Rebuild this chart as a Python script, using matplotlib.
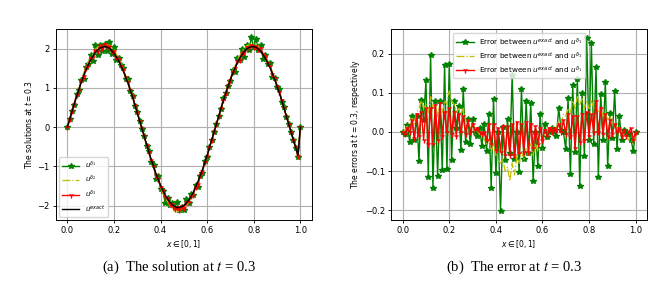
import numpy as np
import matplotlib
matplotlib.use("Agg")
import matplotlib.pyplot as plt

# grid points x = 0, 0.01, ..., 1.0
x = np.linspace(0, 1, 101)

# exact solution at t = 0.3
u_exact = [0.00, 0.20, 0.40, 0.60, 0.79, 0.97, 1.15, 1.31, 1.46, 1.59,
           1.71, 1.81, 1.90, 1.97, 2.01, 2.04, 2.05, 2.04, 2.01, 1.95,
           1.88, 1.79, 1.69, 1.57, 1.43, 1.28, 1.12, 0.94, 0.76, 0.56,
           0.36, 0.16, -0.04, -0.24, -0.44, -0.64, -0.83, -1.01, -1.18, -1.34,
           -1.48, -1.62, -1.73, -1.83, -1.91, -1.98, -2.02, -2.05, -2.05, -2.03,
           -2.00, -1.94, -1.87, -1.78, -1.67, -1.54, -1.40, -1.24, -1.08, -0.90,
           -0.72, -0.52, -0.32, -0.12, 0.08, 0.28, 0.48, 0.68, 0.86, 1.04,
           1.21, 1.37, 1.51, 1.64, 1.76, 1.85, 1.93, 1.99, 2.03, 2.05,
           2.05, 2.03, 1.99, 1.93, 1.85, 1.75, 1.64, 1.51, 1.37, 1.21,
           1.04, 0.87, 0.68, 0.48, 0.28, 0.08, -0.12, -0.32, -0.52, -0.72,
           0.00]

# errors between u_exact and the noisy solutions
err1 = [0.000, -0.006, 0.017, -0.025, 0.040, -0.020, 0.040, -0.075, 0.082, 0.030,
        0.132, -0.115, 0.196, -0.142, 0.080, -0.112, 0.078, -0.098, 0.170, -0.095,
        0.173, -0.071, 0.078, 0.010, 0.066, -0.046, 0.109, -0.025, 0.033, -0.030,
        0.032, 0.000, -0.010, 0.011, -0.036, 0.020, -0.048, 0.045, -0.143, 0.084,
        -0.105, 0.000, -0.202, 0.012, -0.072, 0.033, -0.055, 0.145, -0.070, 0.000,
        -0.103, 0.110, -0.068, 0.080, -0.053, 0.073, -0.126, 0.000, -0.086, 0.045,
        -0.040, 0.020, -0.012, 0.000, 0.010, 0.000, -0.010, 0.061, 0.005, 0.000,
        -0.044, 0.086, -0.107, 0.120, -0.050, 0.135, -0.138, 0.100, -0.062, 0.240,
        -0.020, 0.227, -0.030, 0.166, -0.114, 0.098, -0.020, 0.128, -0.087, 0.049,
        -0.015, 0.104, -0.044, 0.041, -0.020, 0.005, 0.000, -0.005, -0.020, -0.048,
        0.000]

err2 = [0.000, 0.005, 0.015, 0.030, 0.035, 0.020, 0.050, 0.060, 0.080, 0.060,
        0.070, 0.050, 0.090, 0.060, 0.070, 0.040, 0.070, 0.050, 0.080, 0.070,
        0.105, 0.080, 0.070, 0.050, 0.060, 0.045, 0.060, 0.030, 0.030, 0.010,
        0.020, 0.000, 0.005, -0.005, 0.000, -0.020, -0.030, -0.020, -0.050, -0.030,
        -0.060, -0.070, -0.080, -0.070, -0.100, -0.090, -0.125, -0.080, -0.110, -0.060,
        -0.080, -0.050, -0.070, -0.040, -0.060, -0.030, -0.060, -0.030, -0.050, -0.010,
        -0.020, 0.000, -0.005, 0.010, 0.010, 0.015, 0.010, 0.030, 0.020, 0.045,
        0.040, 0.060, 0.050, 0.080, 0.060, 0.090, 0.070, 0.085, 0.060, 0.080,
        0.060, 0.080, 0.060, 0.070, 0.050, 0.060, 0.040, 0.050, 0.030, 0.040,
        0.020, 0.020, 0.010, 0.010, 0.000, -0.010, -0.010, -0.020, -0.020, -0.030,
        0.000]

err3 = [0.000, -0.005, 0.010, 0.000, 0.030, -0.015, 0.045, -0.010, 0.050, -0.020,
        0.060, -0.030, 0.060, -0.030, 0.070, -0.020, 0.075, -0.010, 0.050, 0.000,
        0.060, -0.005, 0.050, -0.010, 0.045, 0.000, 0.040, -0.005, 0.030, 0.000,
        0.020, 0.005, 0.010, 0.000, -0.005, 0.000, -0.020, 0.020, -0.030, 0.020,
        -0.045, 0.010, -0.050, 0.015, -0.060, 0.015, -0.060, 0.020, -0.060, 0.025,
        -0.055, 0.020, -0.050, 0.025, -0.050, 0.020, -0.040, 0.015, -0.030, 0.010,
        -0.020, 0.005, -0.010, 0.010, 0.000, 0.010, 0.005, 0.020, 0.000, 0.030,
        -0.005, 0.045, -0.010, 0.040, -0.040, 0.040, -0.025, 0.045, -0.020, 0.050,
        -0.010, 0.045, 0.000, 0.080, 0.000, 0.060, -0.005, 0.045, -0.010, 0.030,
        -0.005, 0.020, 0.000, 0.010, -0.010, 0.005, -0.010, 0.000, 0.010, -0.020,
        0.000]

u_exact = np.array(u_exact)
err1, err2, err3 = np.array(err1), np.array(err2), np.array(err3)

# noisy solutions = exact + their error
u_d1 = u_exact + err1
u_d2 = u_exact + err2
u_d3 = u_exact + err3

fig = plt.figure(figsize=(6.65, 2.88), dpi=100)
ax1 = fig.add_axes([0.0838, 0.236, 0.385, 0.662])
ax2 = fig.add_axes([0.588, 0.236, 0.385, 0.662])

fs_tick = 6
fs_lab = 5.5

# ---- (a) solutions
ax1.plot(x, u_d1, color="green", marker="*", markersize=4, lw=1, label=r"$u^{\delta_1}$")
ax1.plot(x, u_d2, color="y", ls="-.", lw=0.9, label=r"$u^{\delta_2}$")
ax1.plot(x, u_d3, color="red", marker="1", markersize=4, lw=1, label=r"$u^{\delta_3}$")
ax1.plot(x, u_exact, color="black", lw=1, label=r"$u^{exact}$")
ax1.set_ylim(-2.37, 2.49)
ax1.set_xlim(-0.05, 1.049)
ax1.set_xticks([0.0, 0.2, 0.4, 0.6, 0.8, 1.0])
ax1.set_yticks([-2, -1, 0, 1, 2])
ax1.grid(True, color="#b0b0b0", lw=0.8)
ax1.set_xlabel(r"$x\in[0,1]$", fontsize=fs_lab, labelpad=2)
ax1.set_ylabel(r"The solutions at $t=0.3$", fontsize=fs_lab, labelpad=2)
ax1.tick_params(labelsize=fs_tick, length=2.5, pad=2, width=0.6)
ax1.legend(loc="lower left", fontsize=5, handlelength=2.5, borderpad=0.4, labelspacing=0.45)

# ---- (b) errors
ax2.plot(x, err1, color="green", marker="*", markersize=4, lw=1,
         label=r"Error between $u^{exact}$ and $u^{\delta_1}$")
ax2.plot(x, err2, color="y", ls="-.", lw=0.9,
         label=r"Error between $u^{exact}$ and $u^{\delta_1}$")
ax2.plot(x, err3, color="red", marker="1", markersize=4, lw=1,
         label=r"Error between $u^{exact}$ and $u^{\delta_1}$")
ax2.set_ylim(-0.225, 0.262)
ax2.set_xlim(-0.05, 1.049)
ax2.set_xticks([0.0, 0.2, 0.4, 0.6, 0.8, 1.0])
ax2.set_yticks([-0.2, -0.1, 0.0, 0.1, 0.2])
ax2.grid(True, color="#b0b0b0", lw=0.8)
ax2.set_xlabel(r"$x\in[0,1]$", fontsize=fs_lab, labelpad=2)
ax2.set_ylabel(r"The errors at $t=0.3$, respectively", fontsize=fs_lab, labelpad=2)
ax2.tick_params(labelsize=fs_tick, length=2.5, pad=2, width=0.6)
ax2.legend(loc="upper center", fontsize=5.2, handlelength=2.5, borderpad=0.35,
           labelspacing=0.45, framealpha=0.8)

for ax in (ax1, ax2):
    for s in ax.spines.values():
        s.set_linewidth(0.7)

# captions below the panels
fig.text(0.27, 0.073, r"(a)  The solution at $t$ = 0.3", ha="center", va="center",
         fontsize=10.5, family="Liberation Serif", math_fontfamily="stix")
fig.text(0.773, 0.073, r"(b)  The error at $t$ = 0.3", ha="center", va="center",
         fontsize=10.5, family="Liberation Serif", math_fontfamily="stix")

fig.savefig("out.png", dpi=100)
